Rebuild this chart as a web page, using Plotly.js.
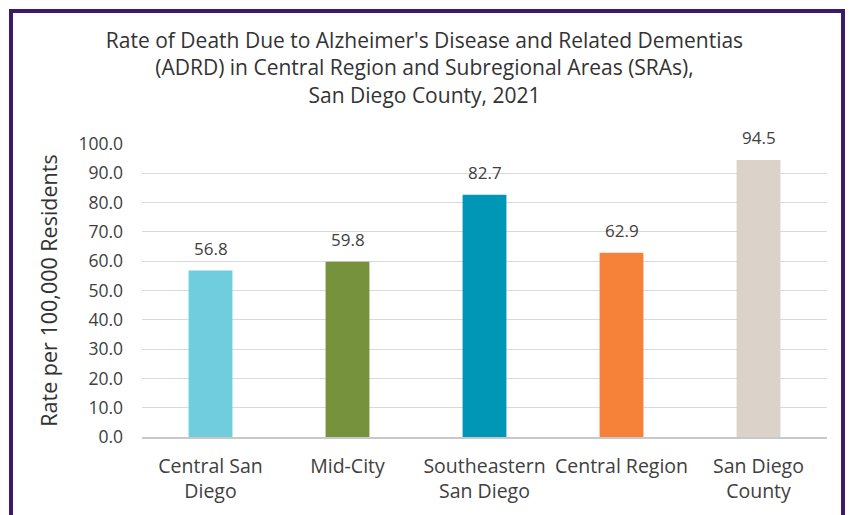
<!DOCTYPE html>
<html>
<head>
<meta charset="utf-8">
<script src="https://cdn.plot.ly/plotly-3.0.1.min.js"></script>
<style>html,body{margin:0;padding:0;background:#fff;}#chart{width:849px;height:515px;}</style>
</head>
<body>
<div id="chart"></div>
<script>
const categories = ["Central San Diego", "Mid-City", "Southeastern San Diego", "Central Region", "San Diego County"];
const tickLabels = ["Central San<br>Diego", "Mid-City", "Southeastern<br>San Diego", "Central Region", "San Diego<br>County"];
const rates = [56.8, 59.8, 82.7, 62.9, 94.5];
const barColors = ["#6fcddd", "#77923d", "#0096b6", "#f58238", "#dbd2c9"];
const yTicks = [0, 10, 20, 30, 40, 50, 60, 70, 80, 90, 100];

const FONT = "'Open Sans', Lato, sans-serif";

const trace = {
  type: "bar",
  x: categories,
  y: rates,
  marker: {color: barColors, line: {width: 0}},
  hoverinfo: "x+y"
};

const annotations = categories.map((c, i) => ({
  x: c, y: rates[i], xref: "x", yref: "y",
  text: rates[i].toFixed(1),
  showarrow: false, yanchor: "bottom", yshift: 9,
  font: {family: FONT, size: 17, color: "#404040"}
}));

// purple frame (paper coords relative to plot area)
const L = 142, R = 827, T = 144, B = 437;
const px2x = p => (p - L) / (R - L);
const py2y = p => (B - p) / (B - T);

const layout = {
  width: 849, height: 515,
  margin: {l: L, r: 849 - R, t: T, b: 515 - B, pad: 0},
  paper_bgcolor: "#ffffff", plot_bgcolor: "#ffffff",
  font: {family: FONT, color: "#404040"},
  title: {
    text: "Rate of Death Due to Alzheimer's Disease and Related Dementias<br>(ADRD) in Central Region and Subregional Areas (SRAs),<br>San Diego County, 2021",
    font: {family: FONT, size: 21, color: "#333333"},
    x: 0.5, xref: "container", xanchor: "center",
    y: 1 - 48/515, yref: "container", yanchor: "middle"
  },
  bargap: 0.68,
  showlegend: false,
  xaxis: {
    type: "category",
    tickvals: categories, ticktext: tickLabels,
    tickfont: {family: FONT, size: 19.5, color: "#404040"},
    showline: true, linecolor: "#c8c8c8", linewidth: 1.5,
    showgrid: false, ticks: "", ticklabelstandoff: 11,
    fixedrange: true
  },
  yaxis: {
    range: [0, 100], tickvals: yTicks, ticktext: yTicks.map(v => v.toFixed(1)),
    tickfont: {family: FONT, size: 17.5, color: "#404040"},
    showgrid: true, gridcolor: "#d9d9d9", gridwidth: 1,
    zeroline: false, showline: false, ticks: "", ticklabelstandoff: 18,
    title: {text: "Rate per 100,000 Residents", font: {family: FONT, size: 21.5, color: "#333333"}, standoff: 14},
    fixedrange: true
  },
  annotations: annotations,
  shapes: [{
    type: "rect", xref: "paper", yref: "paper", layer: "above",
    x0: px2x(11), x1: px2x(843), y0: py2y(540), y1: py2y(11),
    line: {color: "#3b1a6e", width: 4}, fillcolor: "rgba(0,0,0,0)"
  }]
};

Plotly.newPlot("chart", [trace], layout, {displayModeBar: false, staticPlot: true});
</script>
</body>
</html>
